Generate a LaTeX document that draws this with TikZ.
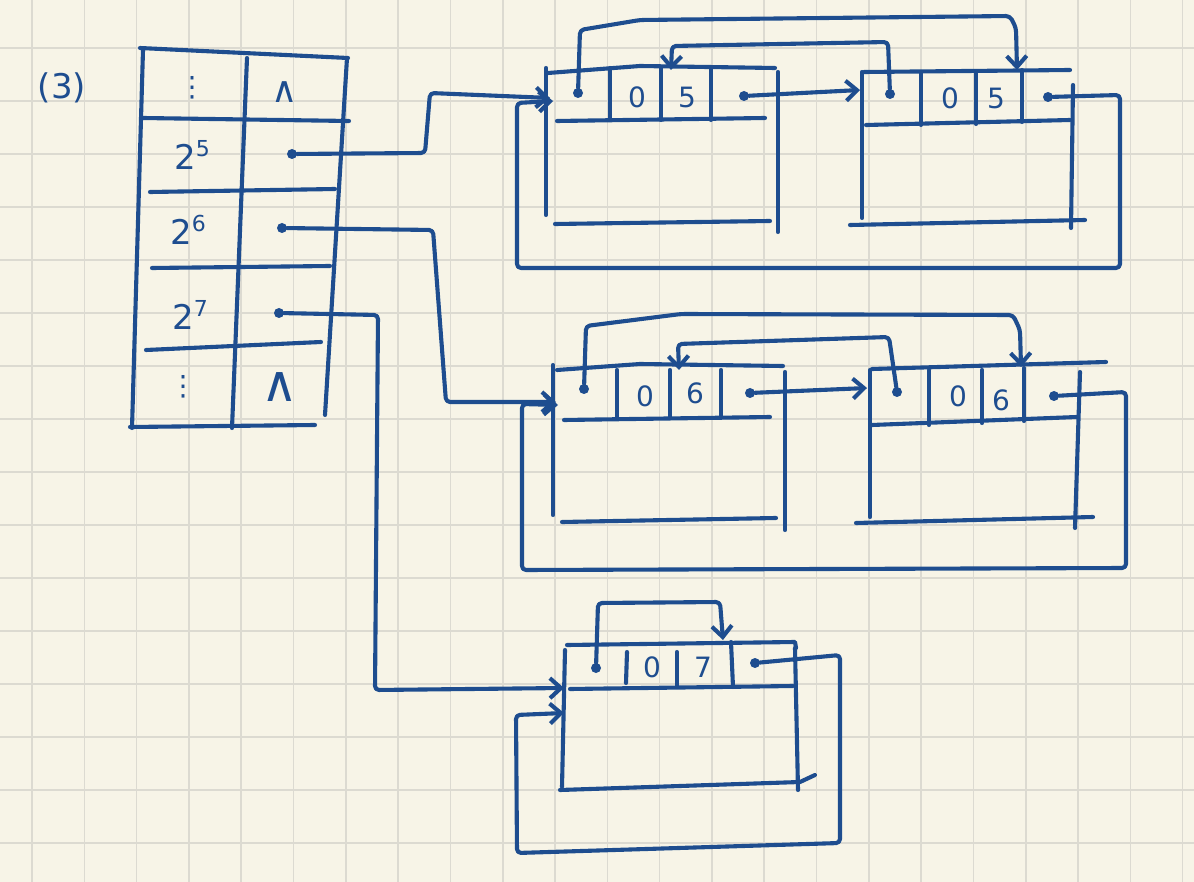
\documentclass[tikz,border=0pt]{standalone}
\usepackage{fontspec}
\setmainfont{DejaVu Sans}
\usetikzlibrary{arrows.meta}
\definecolor{ink}{HTML}{1E4D8F}
\definecolor{paper}{HTML}{F7F4E7}
\definecolor{gridc}{HTML}{DCDAD1}
\begin{document}
\begin{tikzpicture}[x=1pt,y=-1pt,
  pen/.style={draw=ink, line width=4.1pt, line cap=round, line join=round},
  ptr/.style={pen, rounded corners=4pt, -{Straight Barb[length=11pt,width=20pt]}},
  dotn/.style={circle, fill=ink, inner sep=0pt, minimum size=10pt},
  lbl/.style={text=ink, inner sep=0pt, font=\fontsize{28}{30}\selectfont},
  big/.style={text=ink, inner sep=0pt, font=\fontsize{34}{36}\selectfont}]
% paper and grid
\fill[paper] (0,0) rectangle (1194,882);
\useasboundingbox (0,0) rectangle (1194,882);
\foreach \i in {0,...,22} \draw[gridc, line width=1.6pt] ({32+52.3*\i},0) -- ++(0,882);
\foreach \j in {0,...,15} \draw[gridc, line width=1.6pt] (0,{48+53*\j}) -- ++(1194,0);

% label
\node[big] (num) at (62,88) {(3)};

% ---------- table ----------
\draw[pen] (140,48) -- (348,58);
\draw[pen] (143,50) -- (132,428);
\draw[pen] (247,58) -- (232,428);
\draw[pen] (347,58) -- (325,415);
\draw[pen] (143,118) -- (349,121);
\draw[pen] (150,192) -- (335,189);
\draw[pen] (152,268) -- (330,266);
\draw[pen] (146,350) -- (321,342);
\draw[pen] (130,427) -- (315,425);
\node[lbl] (d1) at (192,88) {⋮};
\node[big, font=\fontsize{36}{38}\selectfont] (n1) at (285,92) {∧};
\node[big] (k5) at (192,155) {2\raisebox{13pt}{\fontsize{22}{24}\selectfont 5}};
\node[big] (k6) at (188,230) {2\raisebox{13pt}{\fontsize{22}{24}\selectfont 6}};
\node[big] (k7) at (190,315) {2\raisebox{13pt}{\fontsize{22}{24}\selectfont 7}};
\node[lbl] (d2) at (183,387) {⋮};
\node[big, font=\fontsize{50}{52}\selectfont] (n2) at (280,387) {∧};
\node[dotn] (t5) at (292,154) {};
\node[dotn] (t6) at (282,228) {};
\node[dotn] (t7) at (279,313) {};

% ---------- block A ----------
\draw[pen] (546,68) -- (546,215);
\draw[pen] (548,73) -- (640,66) -- (775,68);
\draw[pen] (557,121) -- (765,118);
\draw[pen] (610,68) -- (610,120);
\draw[pen] (661,67) -- (661,120);
\draw[pen] (711,67) -- (711,120);
\draw[pen] (778,72) -- (778,232);
\draw[pen] (555,224) -- (770,221);
\node[dotn] (Aprev) at (578,93) {};
\node[lbl] (A0) at (637,97) {0};
\node[lbl] (A5) at (687,97) {5};
\node[dotn] (Anext) at (744,96) {};
\coordinate (Ain) at (550,98);
\coordinate (Ain2) at (553,101);
\coordinate (Atop) at (671,70);

% ---------- block B ----------
\draw[pen] (862,72) -- (862,218);
\draw[pen] (864,72) -- (1070,70);
\draw[pen] (866,125) -- (1070,120);
\draw[pen] (921,72) -- (921,125);
\draw[pen] (976,72) -- (976,124);
\draw[pen] (1022,70) -- (1022,122);
\draw[pen] (1073,85) -- (1071,228);
\draw[pen] (850,225) -- (1085,220);
\node[dotn] (Bprev) at (890,94) {};
\node[lbl] (B0) at (950,98) {0};
\node[lbl] (B5) at (996,98) {5};
\node[dotn] (Bnext) at (1048,97) {};
\coordinate (Bin) at (860,90);
\coordinate (Btop) at (1017,70);

% connectors of top list
\draw[ptr] (t5) -- (425,153) -- (430,93) -- (Ain);
\draw[ptr] (Anext) -- (Bin);
\draw[ptr] (Bnext) -- (1120,95) -- (1120,268) -- (517,268) -- (517,103) -- (Ain2);
\draw[ptr] (Aprev) -- (580,30) -- (640,20) -- (1010,16) -- (1016,28) -- (Btop);
\draw[ptr] (Bprev) -- (888,42) -- (672,46) -- (Atop);

% ---------- block C ----------
\draw[pen] (553,365) -- (553,515);
\draw[pen] (557,370) -- (640,364) -- (783,366);
\draw[pen] (564,420) -- (770,417);
\draw[pen] (617,370) -- (617,417);
\draw[pen] (670,370) -- (670,417);
\draw[pen] (721,370) -- (721,417);
\draw[pen] (785,372) -- (785,530);
\draw[pen] (562,522) -- (776,518);
\node[dotn] (Cprev) at (584,389) {};
\node[lbl] (C0) at (645,396) {0};
\node[lbl] (C6) at (695,393) {6};
\node[dotn] (Cnext) at (750,393) {};
\coordinate (Cin) at (556,402);
\coordinate (Cin2) at (558,405);
\coordinate (Ctop) at (679,370);

% ---------- block D ----------
\draw[pen] (870,370) -- (870,517);
\draw[pen] (872,369) -- (1106,362);
\draw[pen] (872,425) -- (1077,417);
\draw[pen] (929,370) -- (929,425);
\draw[pen] (982,370) -- (982,423);
\draw[pen] (1024,368) -- (1024,421);
\draw[pen] (1080,372) -- (1075,528);
\draw[pen] (856,523) -- (1093,517);
\node[dotn] (Dprev) at (897,392) {};
\node[lbl] (D0) at (958,396) {0};
\node[lbl] (D6) at (1001,400) {6};
\node[dotn] (Dnext) at (1054,396) {};
\coordinate (Din) at (867,388);
\coordinate (Dtop) at (1021,367);

% connectors of middle list
\draw[ptr] (t6) -- (433,230) -- (446,402) -- (Cin);
\draw[ptr] (Cnext) -- (Din);
\draw[ptr] (Dnext) -- (1126,392) -- (1126,568) -- (522,570) -- (522,404) -- (Cin2);
\draw[ptr] (Cprev) -- (586,326) -- (681,314) -- (1013,315) -- (1020,330) -- (Dtop);
\draw[ptr] (Dprev) -- (889,337) -- (678,344) -- (Ctop);

% ---------- block E ----------
\draw[pen] (567,645) -- (795,642) -- (796,648);
\draw[pen] (565,650) -- (562,787);
\draw[pen] (570,689) -- (793,686);
\draw[pen] (627,652) -- (626,683);
\draw[pen] (677,652) -- (677,687);
\draw[pen] (731,642) -- (733,687);
\draw[pen] (795,648) -- (798,790);
\draw[pen] (560,790) -- (800,782) -- (815,775);
\node[dotn] (Eprev) at (596,668) {};
\node[lbl] (E0) at (652,667) {0};
\node[lbl] (E7) at (703,667) {7};
\node[dotn] (Enext) at (755,663) {};
\coordinate (Ein) at (564,688);
\coordinate (Ein2) at (564,713);
\coordinate (Etop) at (723,640);

% connectors of bottom list
\draw[ptr] (t7) -- (378,315) -- (375,690) -- (Ein);
\draw[ptr] (Eprev) -- (598,603) -- (720,602) -- (Etop);
\draw[ptr] (Enext) -- (840,655) -- (840,843) -- (517,853) -- (516,715) -- (Ein2);
\end{tikzpicture}
\end{document}
